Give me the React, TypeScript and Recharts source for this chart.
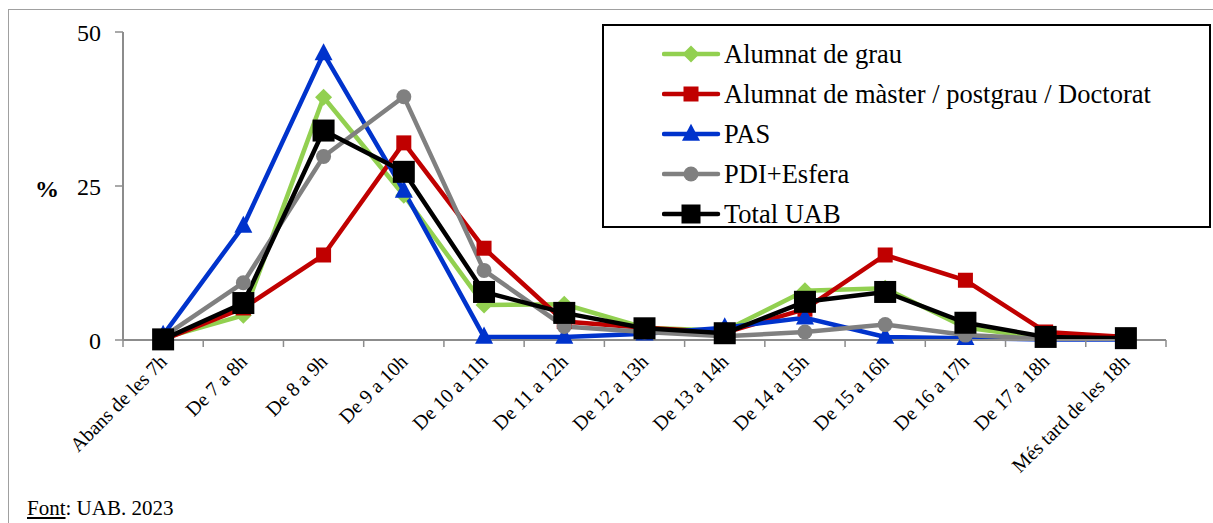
import React from "react";
import { LineChart, Line, XAxis, YAxis, Legend } from "recharts";

const categories = [
  "Abans de les 7h", "De 7 a 8h", "De 8 a 9h", "De 9 a 10h", "De 10 a 11h", "De 11 a 12h",
  "De 12 a 13h", "De 13 a 14h", "De 14 a 15h", "De 15 a 16h", "De 16 a 17h", "De 17 a 18h",
  "Més tard de les 18h",
];
const grau = [0.3, 4, 39.4, 23.5, 5.7, 5.8, 2, 1.5, 8, 8.4, 2, 0.3, 0.2];
const master = [0, 5.2, 13.8, 32, 14.9, 3, 2, 1.2, 5, 13.8, 9.7, 1.3, 0.5];
const pas = [0.8, 18.5, 46.5, 24.2, 0.5, 0.5, 1, 2, 3.6, 0.5, 0.3, 0.1, 0.1];
const pdi = [0.5, 9.3, 29.8, 39.5, 11.3, 2.2, 1.3, 0.6, 1.3, 2.5, 0.8, 0.2, 0.2];
const total = [0.1, 6, 34, 27.3, 7.8, 4.4, 1.9, 1.1, 6.2, 7.8, 2.8, 0.5, 0.3];
const yTicks = [0, 25, 50];

const seriesNames = [
  "Alumnat de grau",
  "Alumnat de màster / postgrau / Doctorat",
  "PAS",
  "PDI+Esfera",
  "Total UAB",
];

const data = categories.map((c, i) => ({
  cat: c,
  grau: grau[i],
  master: master[i],
  pas: pas[i],
  pdi: pdi[i],
  total: total[i],
}));

const FONT = "'Liberation Serif', 'Times New Roman', serif";
const AXIS = "#8c8c8c";

const W = 1205;
const H = 515;
const ML = 115;
const MR = 47;
const XH = 183;
const BAND = (W - ML - MR) / categories.length;

function Marker({ shape, cx, cy, color, size }: any) {
  if (cx == null || cy == null) return null;
  const s = size;
  if (shape === "diamond")
    return <polygon points={`${cx},${cy - s} ${cx + s},${cy} ${cx},${cy + s} ${cx - s},${cy}`} fill={color} />;
  if (shape === "square")
    return <rect x={cx - s} y={cy - s} width={2 * s} height={2 * s} fill={color} />;
  if (shape === "triangle")
    return <polygon points={`${cx},${cy - s * 1.15} ${cx + s},${cy + s * 0.75} ${cx - s},${cy + s * 0.75}`} fill={color} />;
  return <circle cx={cx} cy={cy} r={s} fill={color} />;
}

const seriesDefs = [
  { key: "grau", name: seriesNames[0], color: "#92D050", shape: "diamond", size: 8.5 },
  { key: "master", name: seriesNames[1], color: "#C00000", shape: "square", size: 7.5 },
  { key: "pas", name: seriesNames[2], color: "#0033CC", shape: "triangle", size: 9 },
  { key: "pdi", name: seriesNames[3], color: "#808080", shape: "circle", size: 7.5 },
  { key: "total", name: seriesNames[4], color: "#000000", shape: "square", size: 11 },
];

function XTick(props: any) {
  const { x, y, payload, index } = props;
  const half = BAND / 2;
  const ex = x + 5;
  const ey = y + 15;
  return (
    <g>
      <line x1={x - half} y1={y - 8} x2={x - half} y2={y - 1} stroke={AXIS} strokeWidth={1.5} />
      {index === categories.length - 1 && (
        <line x1={x + half} y1={y - 8} x2={x + half} y2={y - 1} stroke={AXIS} strokeWidth={1.5} />
      )}
      <text
        x={ex}
        y={ey}
        textAnchor="end"
        transform={`rotate(-45, ${ex}, ${ey})`}
        fontFamily={FONT}
        fontSize={20}
        fill="#000"
      >
        {payload.value}
      </text>
    </g>
  );
}

function LegendContent() {
  return (
    <div
      style={{
        border: "2px solid #000",
        boxSizing: "border-box",
        width: 609,
        height: 204,
        background: "#fff",
        paddingTop: 8,
        textAlign: "left",
      }}
    >
      {seriesDefs.map((s) => (
        <div key={s.key} style={{ display: "flex", alignItems: "center", height: 40, marginLeft: 58 }}>
          <svg width={60} height={26} style={{ flex: "none" }}>
            <line x1={2} y1={13} x2={56} y2={13} stroke={s.color} strokeWidth={4.5} strokeLinecap="round" />
            <Marker shape={s.shape} cx={29} cy={13} color={s.color} size={s.key === "total" ? 9.5 : s.size} />
          </svg>
          <span style={{ fontFamily: FONT, fontSize: 26.5, color: "#000", marginLeft: 2, whiteSpace: "nowrap" }}>
            {s.name}
          </span>
        </div>
      ))}
    </div>
  );
}

export default function App() {
  return (
    <div
      style={{
        position: "fixed",
        left: 0,
        top: 0,
        width: 1213,
        height: 523,
        overflow: "hidden",
        background: "#fff",
      }}
    >
      <div style={{ position: "absolute", left: 8, top: 8, width: W, height: H }}>
        <div
          style={{
            position: "absolute",
            left: 0,
            top: 1,
            width: W,
            height: H + 20,
            borderTop: "1.5px solid #a0a0a0",
            borderLeft: "1.5px solid #a0a0a0",
          }}
        />
        <LineChart width={W} height={H} data={data} margin={{ top: 24, right: MR, bottom: 0, left: 0 }}>
          <XAxis
            dataKey="cat"
            interval={0}
            tickLine={false}
            tick={<XTick />}
            axisLine={{ stroke: AXIS, strokeWidth: 2 }}
            height={XH}
            padding={{ left: BAND / 2, right: BAND / 2 }}
          />
          <YAxis
            width={ML}
            domain={[0, 50]}
            ticks={yTicks}
            interval={0}
            axisLine={{ stroke: AXIS, strokeWidth: 2 }}
            tickLine={{ stroke: AXIS, strokeWidth: 1.5 }}
            tickSize={8}
            tick={{ fontFamily: FONT, fontSize: 24, fill: "#000", dx: -12 }}
            label={{
              value: "%",
              position: "insideLeft",
              dx: 22,
              dy: 2,
              style: { fontFamily: FONT, fontSize: 24, fontWeight: "bold", fill: "#000" },
            }}
          />
          <Legend
            layout="vertical"
            align="center"
            verticalAlign="middle"
            content={<LegendContent />}
            wrapperStyle={{ position: "absolute", left: 594, top: 16, width: 609, height: 204 }}
          />
          {seriesDefs.map((s) => (
            <Line
              key={s.key}
              dataKey={s.key}
              name={s.name}
              stroke={s.color}
              strokeWidth={4.5}
              isAnimationActive={false}
              activeDot={false}
              dot={(p: any) => (
                <Marker key={`${s.key}-${p.index}`} shape={s.shape} cx={p.cx} cy={p.cy} color={s.color} size={s.size} />
              )}
            />
          ))}
        </LineChart>
        <div
          style={{
            position: "absolute",
            left: 19,
            top: 489,
            fontFamily: FONT,
            fontSize: 21,
            lineHeight: "22px",
            color: "#000",
            whiteSpace: "nowrap",
          }}
        >
          <span style={{ textDecoration: "underline" }}>Font</span>: UAB. 2023
        </div>
      </div>
    </div>
  );
}
